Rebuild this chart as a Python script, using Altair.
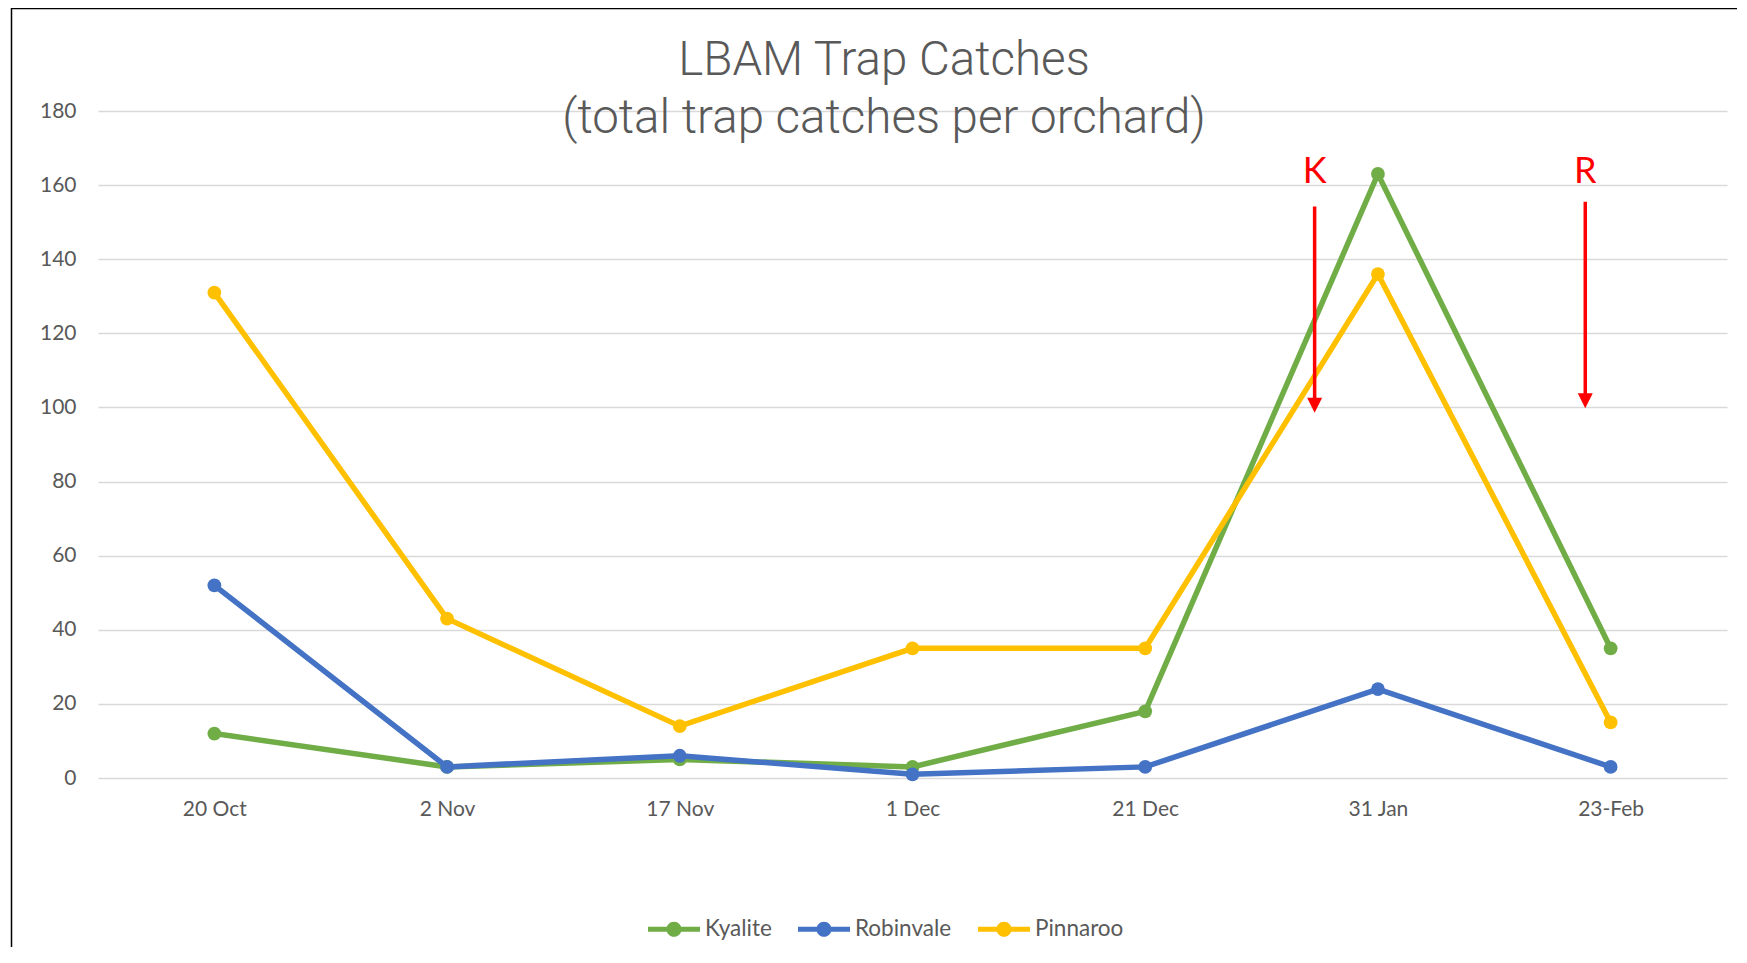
import json
import altair as alt
import pandas as pd

# ---- data ----
categories = ["20 Oct", "2 Nov", "17 Nov", "1 Dec", "21 Dec", "31 Jan", "23-Feb"]
series_names = ["Kyalite", "Robinvale", "Pinnaroo"]
kyalite = [12, 3, 5, 3, 18, 163, 35]
robinvale = [52, 3, 6, 1, 3, 24, 3]
pinnaroo = [131, 43, 14, 35, 35, 136, 15]
series_colors = ["#70AD47", "#4472C4", "#FFC000"]
y_ticks = [0, 20, 40, 60, 80, 100, 120, 140, 160, 180]

# annotation arrows (data units: x = category index, y = catches)
annot_labels = ["K", "R"]
annot_x = [4.728, 5.891]
annot_top = [154.2, 155.5]
annot_head = [100.6, 101.8]
annot_text_y = [160.7, 160.7]

rows = []
for name, vals in zip(series_names, [kyalite, robinvale, pinnaroo]):
    for i, (c, v) in enumerate(zip(categories, vals)):
        rows.append({"idx": i, "date": c, "series": name, "value": v})
df = pd.DataFrame(rows)

ann = pd.DataFrame({"label": annot_labels, "idx": annot_x, "value": annot_top,
                    "head": annot_head, "ty": annot_text_y})

LABEL_FONT = "Lato"
GREY = "#595959"
xscale = alt.Scale(domain=[-0.5, 6.5], nice=False, zero=False)
yscale = alt.Scale(domain=[0, 180], nice=False, zero=True)

x_axis = alt.Axis(values=list(range(len(categories))),
                  labelExpr=json.dumps(categories) + "[datum.value]",
                  grid=False, domain=False, ticks=False, title=None,
                  labelPadding=31, labelBaseline="middle", labelFlush=False,
                  labelOverlap=False, labelFontSize=21, labelFont=LABEL_FONT,
                  labelColor=GREY)
y_axis = alt.Axis(values=y_ticks, grid=True, gridColor="#D9D9D9", gridWidth=1.3,
                  domain=False, ticks=False, title=None, labelPadding=22,
                  labelFontSize=21, labelFont=LABEL_FONT, labelColor=GREY,
                  labelOverlap=False)

X = alt.X("idx:Q", scale=xscale, axis=x_axis)
Y = alt.Y("value:Q", scale=yscale, axis=y_axis)

LEGEND_SYMBOL = ("M-1,-0.1H1V0.1H-1Z "
                 "M-0.29,0A0.29,0.29 0 1,1 0.29,0A0.29,0.29 0 1,1 -0.29,0Z")
legend = alt.Legend(title=None, orient="none", legendX=550, legendY=792,
                    direction="horizontal", symbolType=LEGEND_SYMBOL,
                    symbolSize=2704, symbolStrokeWidth=0,
                    labelFont=LABEL_FONT, labelFontSize=22.5,
                    labelColor=GREY, labelOffset=5,
                    columnPadding=26, padding=0)
series_scale = alt.Scale(domain=series_names, range=series_colors)
stroke_enc = alt.Stroke("series:N", scale=series_scale, legend=legend)
fill_enc = alt.Fill("series:N", scale=series_scale, legend=legend)

base = alt.Chart(df)
layers = []
for name in series_names:
    sub = base.transform_filter(alt.datum.series == name)
    line = sub.mark_line(strokeWidth=5.5).encode(x=X, y=Y, stroke=stroke_enc)
    pts = sub.mark_circle(size=190, opacity=1).encode(x=X, y=Y, fill=fill_enc)
    layers += [line, pts]

annb = alt.Chart(ann)
shaft = annb.mark_rule(color="#FF0000", strokeWidth=3.5).encode(x=X, y=Y, y2="head:Q")
head = annb.mark_point(shape="M-1,-1L1,-1L0,1Z", size=225, filled=True,
                       color="#FF0000", opacity=1, strokeWidth=0).encode(
    x=X, y=alt.Y("head:Q", scale=yscale, axis=y_axis))
letters = annb.mark_text(color="#FF0000", font=LABEL_FONT, fontSize=36,
                         baseline="alphabetic", align="center").encode(
    x=X, y=alt.Y("ty:Q", scale=yscale, axis=y_axis), text="label:N")
layers += [shaft, head, letters]

# outer chart-area border (only its left and top edges fall inside the page)
frame = alt.Chart(alt.Data(values=[{}])).mark_rect(
    fillOpacity=0, stroke="black", strokeWidth=1.5
).encode(x=alt.value(-86.5), x2=alt.value(3000), y=alt.value(-102.5), y2=alt.value(3000))
layers.append(frame)

chart = alt.layer(*layers).properties(
    width=1629, height=667,
    background="white",
    autosize=alt.AutoSizeParams(type="none"),
    padding={"left": 90, "top": 103, "right": 10, "bottom": 169},
    title=alt.Title(["LBAM Trap Catches", "(total trap catches per orchard)"],
                    font="Roboto", fontWeight=300, fontSize=47.5, color=GREY,
                    lineHeight=58, anchor="middle", dx=-28.5, offset=-172.5,
                    baseline="alphabetic"),
).configure_view(strokeWidth=0)

chart.save("out.html", embed_options={"renderer": "svg", "actions": False})
